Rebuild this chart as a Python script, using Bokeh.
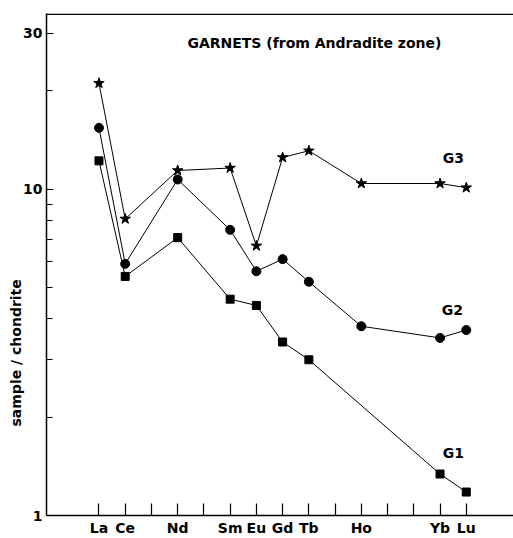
from bokeh.plotting import figure
from bokeh.models import FixedTicker, Label, Span, Title
from bokeh.embed import file_html
from bokeh.resources import INLINE

# ---- data ----
all_z = list(range(57, 72))
all_sym = ["La", "Ce", "Pr", "Nd", "Pm", "Sm", "Eu", "Gd", "Tb", "Dy", "Ho", "Er", "Tm", "Yb", "Lu"]
shown_sym = ["La", "Ce", "Nd", "Sm", "Eu", "Gd", "Tb", "Ho", "Yb", "Lu"]

g3_z = [57, 58, 60, 62, 63, 64, 65, 67, 70, 71]
g3_v = [21.1, 8.1, 11.4, 11.6, 6.7, 12.5, 13.1, 10.4, 10.4, 10.1]

g2_z = [57, 58, 60, 62, 63, 64, 65, 67, 70, 71]
g2_v = [15.4, 5.9, 10.7, 7.5, 5.6, 6.1, 5.2, 3.8, 3.5, 3.7]

g1_z = [57, 58, 60, 62, 63, 64, 65, 70, 71]
g1_v = [12.2, 5.4, 7.1, 4.6, 4.4, 3.4, 3.0, 1.34, 1.18]

y_major = [1, 10, 30]
y_minor = [2, 3, 4, 5, 6, 7, 8, 9, 20]

FONT = "DejaVu Sans"

p = figure(width=513, height=538, output_backend="svg", toolbar_location=None,
           x_range=(55, 72.8), y_range=(1, 34.5), y_axis_type="log",
           min_border_left=46, min_border_right=0, min_border_top=13, min_border_bottom=22)
p.outline_line_color = None
p.grid.visible = False
p.background_fill_color = "white"

# x axis
p.xaxis.ticker = FixedTicker(ticks=all_z)
p.xaxis.major_label_overrides = {z: (s if s in shown_sym else "") for z, s in zip(all_z, all_sym)}
p.xaxis.major_tick_in = 12
p.xaxis.major_tick_out = 0
p.xaxis.minor_tick_line_color = None
p.xaxis.major_label_standoff = 4
p.xaxis.major_label_text_font = FONT
p.xaxis.major_label_text_font_style = "bold"
p.xaxis.major_label_text_font_size = "14px"
p.xaxis.major_label_text_color = "black"
p.xaxis.axis_line_width = 1.5
p.xaxis.major_tick_line_width = 1.2

# y axis (ticks point inward)
p.yaxis.ticker = FixedTicker(ticks=y_major, minor_ticks=y_minor)
p.yaxis.major_label_overrides = {1: "1", 10: "10", 30: "30"}
p.yaxis.major_tick_in = 7
p.yaxis.major_tick_out = 0
p.yaxis.minor_tick_in = 6
p.yaxis.minor_tick_out = 0
p.yaxis.major_label_standoff = 4
p.yaxis.major_label_text_font = FONT
p.yaxis.major_label_text_font_style = "bold"
p.yaxis.major_label_text_font_size = "14px"
p.yaxis.major_label_text_color = "black"
p.yaxis.axis_line_width = 1.5
p.yaxis.major_tick_line_width = 1.2
p.yaxis.minor_tick_line_width = 1.2
p.yaxis.minor_tick_line_color = "black"

# y-axis title, placed low along the axis as in the original
p.add_layout(Title(text="sample / chondrite", align="left", offset=89,
                   text_font=FONT, text_font_style="bold", text_font_size="14px",
                   text_color="black", standoff=-6), "left")

# top border line
p.add_layout(Span(location=34.3, dimension="width", line_color="black", line_width=1.5))

# series
p.line(g3_z, g3_v, line_color="black", line_width=1)
p.scatter(g3_z, g3_v, marker="star", size=11, fill_color="black", line_color="black")
p.line(g2_z, g2_v, line_color="black", line_width=1)
p.scatter(g2_z, g2_v, marker="circle", size=9, fill_color="black", line_color="black")
p.line(g1_z, g1_v, line_color="black", line_width=1)
p.scatter(g1_z, g1_v, marker="square", size=8, fill_color="black", line_color="black")

def lab(x, y, text, size="14px", align="left"):
    p.add_layout(Label(x=x, y=y, text=text, text_font=FONT, text_font_style="bold",
                       text_font_size=size, text_align=align, text_baseline="middle",
                       text_color="black"))

lab(60.37, 27.96, "GARNETS  (from Andradite zone)")
lab(70.51, 12.44, "G3", align="center")
lab(70.47, 4.27, "G2", align="center")
lab(70.51, 1.558, "G1", align="center")

open("out.html", "w").write(file_html(p, INLINE))
